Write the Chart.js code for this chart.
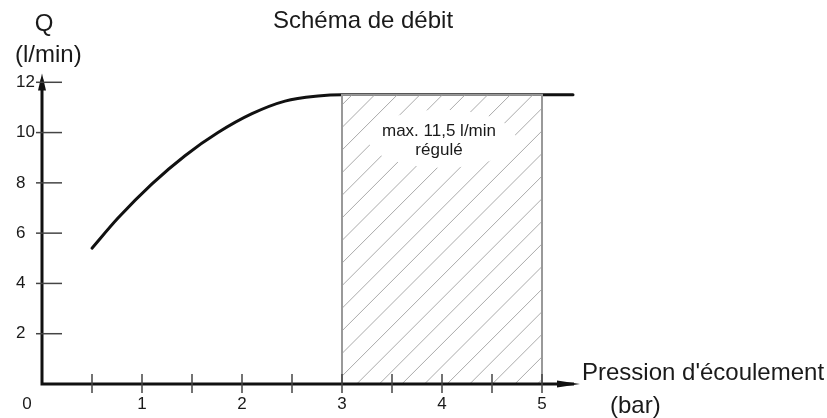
<!DOCTYPE html>
<html lang="fr">
<head>
<meta charset="utf-8">
<title>Schéma de débit</title>
<script src="https://cdn.jsdelivr.net/npm/chart.js@4.4.1/dist/chart.umd.min.js"></script>
<style>
  html, body { margin: 0; padding: 0; background: #fff; }
  #wrap { width: 827px; height: 418px; }
</style>
</head>
<body>
<div id="wrap"><canvas id="debit" width="827" height="418"></canvas></div>
<script>
const pressure = [0.5, 0.76, 1.1, 1.43, 1.76, 2.1, 2.43, 2.76, 3.0, 5.31];
const flow = [5.4, 6.6, 7.96, 9.08, 10.0, 10.75, 11.25, 11.45, 11.5, 11.5];
const xTicks = [0.5, 1, 1.5, 2, 2.5, 3, 3.5, 4, 4.5, 5];
const xLabels = [1, 2, 3, 4, 5];
const yTicks = [2, 4, 6, 8, 10, 12];
const regulatedRange = [3, 5];
const regulatedMax = 11.5;

const FONT = "'Liberation Sans', Arial, sans-serif";
const TEXT = '#1a1a1a';

// axes, flèches, zone hachurée et textes dessinés à la main
const schemaPlugin = {
  id: 'schema',
  afterDatasetsDraw(chart) {
    const { ctx, scales: { x, y } } = chart;
    const x0 = x.getPixelForValue(0);
    const y0 = y.getPixelForValue(0);

    ctx.save();

    // zone régulée
    const left = x.getPixelForValue(regulatedRange[0]);
    const right = x.getPixelForValue(regulatedRange[1]);
    const top = y.getPixelForValue(regulatedMax);
    const h = y0 - top;
    const cx = (left + right) / 2;
    const cy = top + 44;

    ctx.fillStyle = '#fff';
    ctx.fillRect(left, top + 1, right - left, h - 1);

    ctx.save();
    ctx.beginPath();
    ctx.rect(left, top, right - left, h);
    ctx.ellipse(cx, cy, 74, 29, 0, 0, Math.PI * 2);
    ctx.clip('evenodd');
    ctx.strokeStyle = '#aaa';
    ctx.lineWidth = 1;
    let c = left + 14.7;
    while (c > left - h) c -= 22.6;
    for (; c < right; c += 22.6) {
      ctx.beginPath();
      ctx.moveTo(c, y0);
      ctx.lineTo(c + h, top);
      ctx.stroke();
    }
    ctx.restore();

    ctx.strokeStyle = '#999';
    ctx.lineWidth = 2;
    ctx.strokeRect(left, top, right - left, h);

    ctx.fillStyle = TEXT;
    ctx.font = '17px ' + FONT;
    ctx.textAlign = 'center';
    ctx.textBaseline = 'alphabetic';
    ctx.fillText('max. 11,5 l/min', cx - 3, top + 41);
    ctx.fillText('régulé', cx - 3, top + 60);

    // axes
    ctx.strokeStyle = '#111';
    ctx.fillStyle = '#111';
    ctx.lineWidth = 3;
    const yTip = y.getPixelForValue(12.35);
    const xTip = x.getPixelForValue(5.38);
    ctx.beginPath();
    ctx.moveTo(x0, y0 + 1.5);
    ctx.lineTo(x0, yTip + 6);
    ctx.moveTo(x0 - 1.5, y0);
    ctx.lineTo(xTip - 6, y0);
    ctx.stroke();

    ctx.beginPath();
    ctx.moveTo(x0, yTip);
    ctx.lineTo(x0 - 4, yTip + 17);
    ctx.lineTo(x0 + 4, yTip + 17);
    ctx.closePath();
    ctx.fill();

    ctx.beginPath();
    ctx.moveTo(xTip, y0);
    ctx.lineTo(xTip - 23, y0 - 3.5);
    ctx.lineTo(xTip - 23, y0 + 3.5);
    ctx.closePath();
    ctx.fill();

    // graduations
    ctx.strokeStyle = '#444';
    ctx.lineWidth = 1.5;
    xTicks.forEach(v => {
      const px = x.getPixelForValue(v);
      ctx.beginPath();
      ctx.moveTo(px, y0 - 10);
      ctx.lineTo(px, y0 + 9);
      ctx.stroke();
    });
    yTicks.forEach(v => {
      const py = y.getPixelForValue(v);
      ctx.beginPath();
      ctx.moveTo(x0 - 6, py);
      ctx.lineTo(x0 + 20, py);
      ctx.stroke();
    });

    ctx.fillStyle = TEXT;
    ctx.font = '17px ' + FONT;
    ctx.textBaseline = 'middle';
    ctx.textAlign = 'center';
    xLabels.forEach(v => {
      ctx.fillText(String(v), x.getPixelForValue(v), y0 + 20);
    });
    ctx.fillText('0', x0 - 15, y0 + 20);
    ctx.textAlign = 'left';
    yTicks.forEach(v => {
      ctx.fillText(String(v), 16, y.getPixelForValue(v));
    });

    // titres
    ctx.font = '24px ' + FONT;
    ctx.textBaseline = 'alphabetic';
    ctx.textAlign = 'center';
    ctx.fillText('Schéma de débit', 363, 28);
    ctx.fillText('Q', 44, 31);
    ctx.textAlign = 'left';
    ctx.fillText('(l/min)', 15, 62);
    ctx.fillText("Pression d'écoulement", 582, 380);
    ctx.fillText('(bar)', 610, 413);

    ctx.restore();
  }
};

const ctx = document.getElementById('debit').getContext('2d');
new Chart(ctx, {
  type: 'scatter',
  data: {
    datasets: [{
      label: 'Débit',
      data: pressure.map((p, i) => ({ x: p, y: flow[i] })),
      showLine: true,
      borderColor: '#111',
      borderWidth: 3,
      borderCapStyle: 'round',
      pointRadius: 0,
      cubicInterpolationMode: 'monotone',
      fill: false
    }]
  },
  options: {
    responsive: false,
    animation: false,
    devicePixelRatio: 1,
    layout: { padding: { left: 42, right: 85, top: 32, bottom: 34 } },
    plugins: {
      legend: { display: false },
      tooltip: { enabled: false }
    },
    scales: {
      x: { type: 'linear', min: 0, max: 7, display: false },
      y: { type: 'linear', min: 0, max: 14, display: false }
    }
  },
  plugins: [schemaPlugin]
});
</script>
</body>
</html>
